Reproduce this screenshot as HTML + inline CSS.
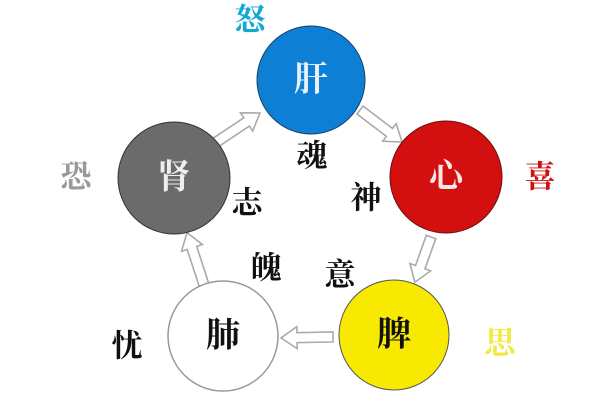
<!DOCTYPE html>
<html><head><meta charset="utf-8"><style>
html,body{margin:0;padding:0;background:#fff;}
svg{display:block;}
text{font-family:"Liberation Serif","Noto Serif CJK SC",serif;text-anchor:middle;dominant-baseline:central;}
</style></head><body>
<svg width="600" height="418" viewBox="0 0 600 418">
<g fill="#fff" stroke="#aaa" stroke-width="1.6" stroke-linejoin="miter">
<g transform="translate(215,143) rotate(-33.7)"><polygon points="0,-5 38,-5 38,-11 54,0 38,11 38,5 0,5"/></g>
<g transform="translate(360,110) rotate(37.3)"><polygon points="0,-5 37,-5 37,-11 53,0 37,11 37,5 0,5"/></g>
<g transform="translate(431,237) rotate(109.6)"><polygon points="0,-5 32,-5 32,-11 48,0 32,11 32,5 0,5"/></g>
<g transform="translate(333,337) rotate(179)"><polygon points="0,-5 36,-5 36,-11 52,0 36,11 36,5 0,5"/></g>
<g transform="translate(204,285) rotate(-108)"><polygon points="0,-5 39,-5 39,-11 55,0 39,11 39,5 0,5"/></g>
</g>
<circle cx="311" cy="80" r="54" fill="#0d7fd4" stroke="#1a3a66" stroke-width="1"/>
<circle cx="446" cy="177" r="56" fill="#d40f0f" stroke="#6a1010" stroke-width="1"/>
<circle cx="174" cy="178" r="56" fill="#6b6b6b" stroke="#333" stroke-width="1"/>
<circle cx="223" cy="336" r="55" fill="#fff" stroke="#999" stroke-width="1.5"/>
<circle cx="394" cy="335" r="55" fill="#f7ea00" stroke="#555" stroke-width="1"/>
<g font-size="34" font-weight="700">
<text x="311" y="80" fill="#e8f0f8">肝</text>
<text x="446" y="177" fill="#f4e6e6">心</text>
<text x="174" y="178" fill="#eeeeee">肾</text>
<text x="223" y="336" fill="#111">肺</text>
<text x="394" y="335" fill="#111">脾</text>
</g>
<g font-size="31" font-weight="700">
<text x="250" y="20" fill="#11a8d8">怒</text>
<text x="76" y="177" fill="#999">恐</text>
<text x="540" y="177" fill="#cc1111">喜</text>
<text x="500" y="343" fill="#f2ea40">思</text>
<text x="127" y="346" fill="#111">忧</text>
<text x="312" y="156" fill="#111">魂</text>
<text x="366" y="198" fill="#111">神</text>
<text x="247" y="203" fill="#111">志</text>
<text x="266" y="268" fill="#111">魄</text>
<text x="340" y="275" fill="#111">意</text>
</g>
</svg>
</body></html>
